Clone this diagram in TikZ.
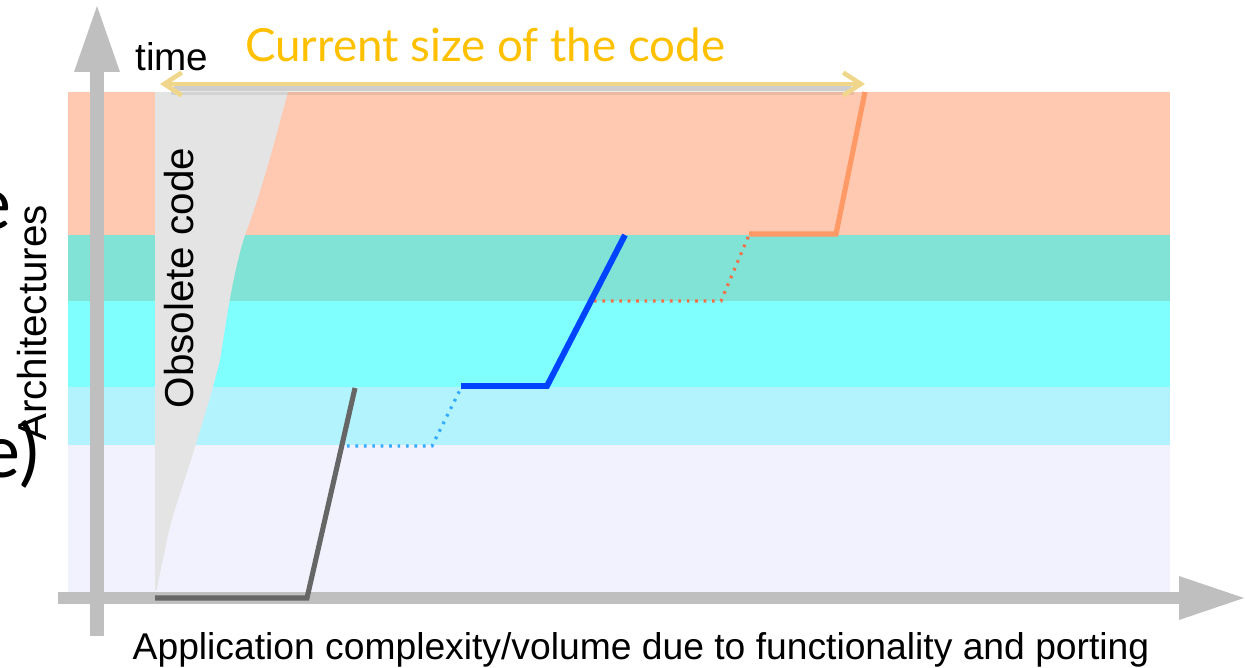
\documentclass[tikz,border=0pt]{standalone}
\usepackage{fontspec}
\setmainfont{Liberation Sans}
\newfontfamily\gillfont{Lato}
\usetikzlibrary{arrows.meta}
\definecolor{salmon}{HTML}{FFC8B0}
\definecolor{tealband}{HTML}{80E3D5}
\definecolor{cyanband}{HTML}{80FFFF}
\definecolor{lcyanband}{HTML}{B3F3FD}
\definecolor{lavband}{HTML}{F2F2FE}
\definecolor{obsgray}{HTML}{E4E4E4}
\definecolor{axisgray}{HTML}{BFBFBF}
\definecolor{darkline}{HTML}{666666}
\definecolor{blueline}{HTML}{0044FF}
\definecolor{dotblue}{HTML}{33AAFF}
\definecolor{dotorange}{HTML}{F07048}
\definecolor{orangeline}{HTML}{FF9966}
\definecolor{goldtext}{HTML}{FFC000}
\definecolor{goldarrow}{HTML}{F0D68A}
\tikzset{
  lbl/.style={inner sep=0pt, font=\fontsize{22pt}{24pt}\selectfont},
  rlbl/.style={inner sep=0pt, rotate=90, font=\fontsize{23pt}{26pt}\selectfont},
  solidpath/.style={line width=#1, line join=miter},
  dotpath/.style={line width=1.8pt, dash pattern=on 1.5pt off 3.3pt},
  mybarb/.tip={Straight Barb[length=10pt,width=13pt,line width=2.6pt]},
}
\begin{document}
\begin{tikzpicture}[x=0.02cm,y=-0.02cm]
\useasboundingbox (0,0) rectangle (1245,668);
% bands
\fill[salmon] (68,92) rectangle (1170,235);
\fill[tealband] (68,235) rectangle (1170,301);
\fill[cyanband] (68,301) rectangle (1170,387);
\fill[lcyanband] (68,387) rectangle (1170,445);
\fill[lavband] (68,445) rectangle (1170,592);
% obsolete code region
\fill[obsgray] (155,92) -- (288,92) .. controls (275,140) and (262,190) .. (245,235)
  .. controls (232,275) and (225,330) .. (220,360)
  .. controls (210,400) and (200,430) .. (195,447)
  .. controls (185,480) and (170,520) .. (166,545)
  .. controls (162,565) and (158,580) .. (157,590) -- (155,590) -- cycle;
% axes
\fill[axisgray] (58,592) rectangle (1180,604);
\fill[axisgray] (1179,576) -- (1244,598) -- (1179,620) -- cycle;
\fill[axisgray] (90,72) rectangle (104,636);
\fill[axisgray] (74,72) -- (97,6) -- (120,72) -- cycle;
% named points
\coordinate (g0) at (155,598);
\coordinate (g1) at (307,598);
\coordinate (g2) at (355,388);
\coordinate (bd0) at (347,446);
\coordinate (bd1) at (432,446);
\coordinate (bd2) at (461,388);
\coordinate (b0) at (461,386);
\coordinate (b1) at (547,386);
\coordinate (b2) at (625,235);
\coordinate (od0) at (594,301);
\coordinate (od1) at (721,301);
\coordinate (od2) at (749,235);
\coordinate (o0) at (749,234);
\coordinate (o1) at (836,234);
\coordinate (o2) at (865,92);
% lines
\draw[darkline, solidpath=2.9pt] (g0) -- (g1) -- (g2);
\draw[dotblue, dotpath] (bd0) -- (bd1) -- (bd2);
\draw[dotorange, dotpath] (od0) -- (od1) -- (od2);
\draw[blueline, solidpath=3.4pt] (b0) -- (b1) -- (b2);
\draw[orangeline, solidpath=2.9pt] (o0) -- (o1) -- (o2);
% size arrow with shadow
\coordinate (aL) at (160,84);
\coordinate (aR) at (865,84);
\draw[black, opacity=0.08, line width=6pt] ([yshift=-3pt,xshift=6pt]aL) -- ([yshift=-3pt,xshift=-6pt]aR);
\draw[black, opacity=0.12, line width=3pt] ([yshift=-2.5pt,xshift=8pt]aL) -- ([yshift=-2.5pt,xshift=-8pt]aR);
\draw[goldarrow, line width=2.6pt, mybarb-mybarb] (aL) -- (aR);
% texts
\node[lbl, anchor=base west] (time) at (135,71) {time};
\node[inner sep=0pt, anchor=base west, text=goldtext, font=\gillfont\fontsize{26pt}{30pt}\selectfont] (cur) at (245,62) {Current size of the code};
\node[rlbl] (obs) at (179,278) {Obsolete code};
\node[rlbl] (arch) at (32,323) {Architectures};
\node[lbl, anchor=base, font=\fontsize{21.2pt}{24pt}\selectfont] (xlab) at (641,660) {Application complexity/volume due to functionality and porting};
\node[inner sep=0pt, anchor=base east, font=\gillfont\fontsize{42pt}{48pt}\selectfont] (e1) at (12,230) {e};
\node[inner sep=0pt, anchor=base east, font=\gillfont\fontsize{42pt}{48pt}\selectfont] (e2) at (39,478) {e)};
\end{tikzpicture}
\end{document}
